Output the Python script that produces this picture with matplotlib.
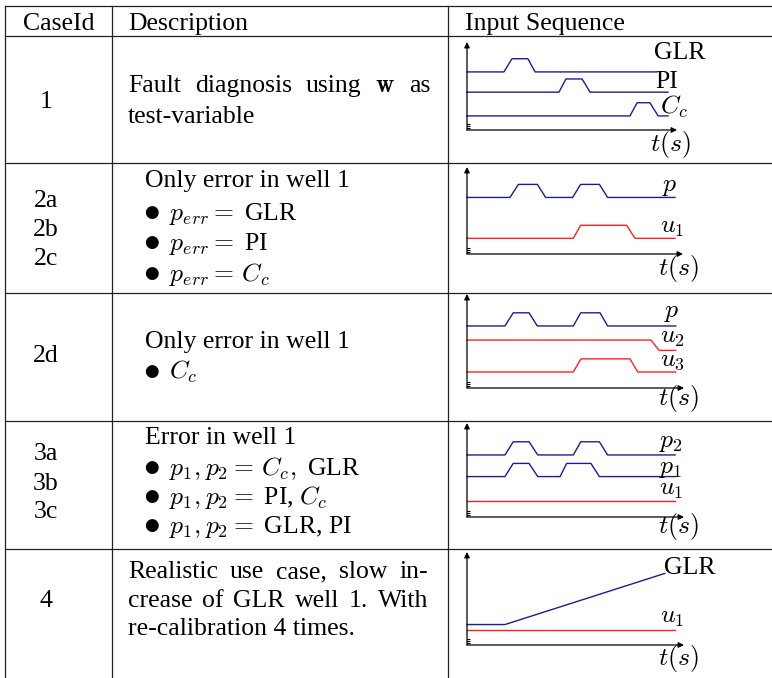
import matplotlib
matplotlib.use("Agg")
import matplotlib.pyplot as plt

plt.rcParams["font.family"] = "Liberation Serif"
plt.rcParams["mathtext.fontset"] = "cm"

# ---- data: input sequences, time 0..100, level 0..10 ----
# case 1
c1_glr_t = [0, 17.6, 21.4, 29.0, 32.4, 90.5]
c1_glr_y = [6.6, 6.6, 8.1, 8.1, 6.6, 6.6]
c1_pi_t = [0, 43.8, 47.1, 54.8, 58.6, 95.7]
c1_pi_y = [4.3, 4.3, 5.8, 5.8, 4.3, 4.3]
c1_cc_t = [0, 77.6, 81.0, 87.1, 91.0, 95.7]
c1_cc_y = [1.6, 1.6, 3.1, 3.1, 1.6, 1.6]
# case 2a-2c
c2_p_t = [0, 19.9, 23.8, 32.6, 36.4, 48.9, 52.6, 61.3, 65.1, 96.3]
c2_p_y = [6.5, 6.5, 8.0, 8.0, 6.5, 6.5, 8.0, 8.0, 6.5, 6.5]
c2_u1_t = [0, 49.2, 52.6, 73.9, 77.8, 96.3]
c2_u1_y = [1.8, 1.8, 3.3, 3.3, 1.8, 1.8]
# case 2d
c3_p_t = [0, 17.5, 21.3, 28.6, 32.4, 49.0, 52.4, 61.3, 64.8, 96.2]
c3_p_y = [6.6, 6.6, 8.0, 8.0, 6.6, 6.6, 8.0, 8.0, 6.6, 6.6]
c3_u2_t = [0, 84.8, 88.5, 96.2]
c3_u2_y = [5.1, 5.1, 4.0, 4.0]
c3_u3_t = [0, 49.0, 52.5, 75.1, 78.7, 96.2]
c3_u3_y = [1.7, 1.7, 3.1, 3.1, 1.7, 1.7]
# case 3a-3c
c4_p2_t = [0, 17.5, 21.3, 28.6, 32.6, 49.0, 52.4, 61.0, 64.8, 95.9]
c4_p2_y = [6.6, 6.6, 8.0, 8.0, 6.6, 6.6, 8.0, 8.0, 6.6, 6.6]
c4_p1_t = [0, 17.5, 21.3, 28.6, 32.6, 42.9, 45.9, 57.1, 61.0, 95.9]
c4_p1_y = [4.3, 4.3, 5.7, 5.7, 4.3, 4.3, 5.7, 5.7, 4.3, 4.3]
c4_u1_t = [0, 95.9]
c4_u1_y = [1.7, 1.7]
# case 4
c5_glr_t = [0, 17.5, 91.2]
c5_glr_y = [2.2, 2.2, 7.7]
c5_u1_t = [0, 95.9]
c5_u1_y = [1.6, 1.6]

case_ids = ["1", "2a", "2b", "2c", "2d", "3a", "3b", "3c", "4"]
headers = ["CaseId", "Description", "Input Sequence"]

BLUE = "#1c1c96"
RED = "#ff2020"
FS = 18.5

W, H = 772, 678
fig = plt.figure(figsize=(W / 100, H / 100), dpi=100)
tab = fig.add_axes([0, 0, 1, 1])
tab.set_xlim(0, W)
tab.set_ylim(H, 0)
tab.axis("off")

# table grid
for y in [6, 36, 163, 293, 421, 549]:
    tab.plot([5, W], [y, y], color="#222222", lw=0.9)
for x in [5, 112, 448]:
    tab.plot([x, x], [6, H], color="#222222", lw=0.9)

# header
tab.text(58.5, 30, headers[0], fontsize=FS, ha="center", va="baseline")
tab.text(128, 30, headers[1], fontsize=FS, va="baseline")
tab.text(465, 30, headers[2], fontsize=FS, va="baseline")

# case ids
for cid, y in zip(case_ids, [108, 207, 236, 265, 362, 460, 490, 518, 607]):
    tab.text(46, y, cid, fontsize=FS, ha="center", va="baseline")

renderer = fig.canvas.get_renderer()


def justify(words, x0, x1, y):
    texts = [tab.text(x0, y, w, fontsize=FS, va="baseline") for w in words]
    widths = [t.get_window_extent(renderer).width for t in texts]
    gap = (x1 - x0 - sum(widths)) / (len(words) - 1)
    x = x0
    for t, w in zip(texts, widths):
        t.set_x(x)
        x += w + gap


def bullet(text, y):
    tab.text(143, y - 1, r"$\bullet$", fontsize=24, va="baseline")
    tab.text(169, y, text, fontsize=FS, va="baseline")


# descriptions
justify(["Fault", "diagnosis", "using", r"$\mathbf{w}$", "as"], 128, 430, 92)
tab.text(128, 123, "test-variable", fontsize=FS, va="baseline")

tab.text(145, 187, "Only error in well 1", fontsize=FS, va="baseline")
bullet(r"$p_{err} = \;$GLR", 220)
bullet(r"$p_{err} = \;$PI", 250)
bullet(r"$p_{err} = \,C_c$", 281)

tab.text(145, 348, "Only error in well 1", fontsize=FS, va="baseline")
bullet(r"$C_c$", 379)

tab.text(145, 444, "Error in well 1", fontsize=FS, va="baseline")
bullet(r"$p_1, p_2 = \,C_c,$ GLR", 475)
bullet(r"$p_1, p_2 = \;$PI, $C_c$", 504)
bullet(r"$p_1, p_2 = \;$GLR, PI", 533)

justify(["Realistic", "use", "case,", "slow", "in-"], 128, 428, 578)
justify(["crease", "of", "GLR", "well", "1.", "With"], 128, 428, 607)
tab.text(128, 635, "re-calibration 4 times.", fontsize=FS, va="baseline")


def diagram(origin_y, end_x, top_y, t_off):
    ax = fig.add_axes([467 / W, 1 - origin_y / H, (end_x - 467) / W, (origin_y - top_y) / H])
    ax.set_xlim(0, 100)
    ax.set_ylim(0, 10)
    ax.axis("off")
    arr = dict(arrowstyle="-|>", color="black", lw=0.9, mutation_scale=8, shrinkA=0, shrinkB=0)
    ax.annotate("", xy=(100, 0), xytext=(0, 0), arrowprops=arr)
    ax.annotate("", xy=(0, 10), xytext=(0, 0), arrowprops=arr)
    ax.plot([0, 0, 0], [0.25, 0.45, 0.65], marker="_", ms=5, ls="none", color="black", mew=0.8)
    ax.annotate("$t(s)$", xy=(100, 0), xytext=t_off, textcoords="offset pixels",
                fontsize=FS, ha="left", va="center")
    return ax


def signal(ax, t, y, color, label, off):
    ax.plot(t, y, color=color, lw=1.0, clip_on=False)
    ax.annotate(label, xy=(t[-1], y[-1]), xytext=off, textcoords="offset pixels",
                fontsize=FS, ha="left", va="center")


ax = diagram(130, 677, 42, (-27, -15))
signal(ax, c1_glr_t, c1_glr_y, BLUE, "GLR", (-3, 19))
signal(ax, c1_pi_t, c1_pi_y, BLUE, "PI", (-13, 10))
signal(ax, c1_cc_t, c1_cc_y, BLUE, "$C_c$", (-8, 9))

ax = diagram(254, 683, 167, (-25, -14))
signal(ax, c2_p_t, c2_p_y, BLUE, "$p$", (-13, 10))
signal(ax, c2_u1_t, c2_u1_y, RED, "$u_1$", (-15, 10))

ax = diagram(388, 684, 294, (-26, -11))
signal(ax, c3_p_t, c3_p_y, BLUE, "$p$", (-12, 13))
signal(ax, c3_u2_t, c3_u2_y, RED, "$u_2$", (-16, 12))
signal(ax, c3_u3_t, c3_u3_y, RED, "$u_3$", (-16, 11))

ax = diagram(517, 684, 423, (-26, -10))
signal(ax, c4_p2_t, c4_p2_y, BLUE, "$p_2$", (-16, 12))
signal(ax, c4_p1_t, c4_p1_y, BLUE, "$p_1$", (-16, 8))
signal(ax, c4_u1_t, c4_u1_y, RED, "$u_1$", (-16, 11))

ax = diagram(645, 684, 552, (-26, -13))
signal(ax, c5_glr_t, c5_glr_y, BLUE, "GLR", (-1, 5))
signal(ax, c5_u1_t, c5_u1_y, RED, "$u_1$", (-15, 12))

fig.savefig("out.png", dpi=100)
